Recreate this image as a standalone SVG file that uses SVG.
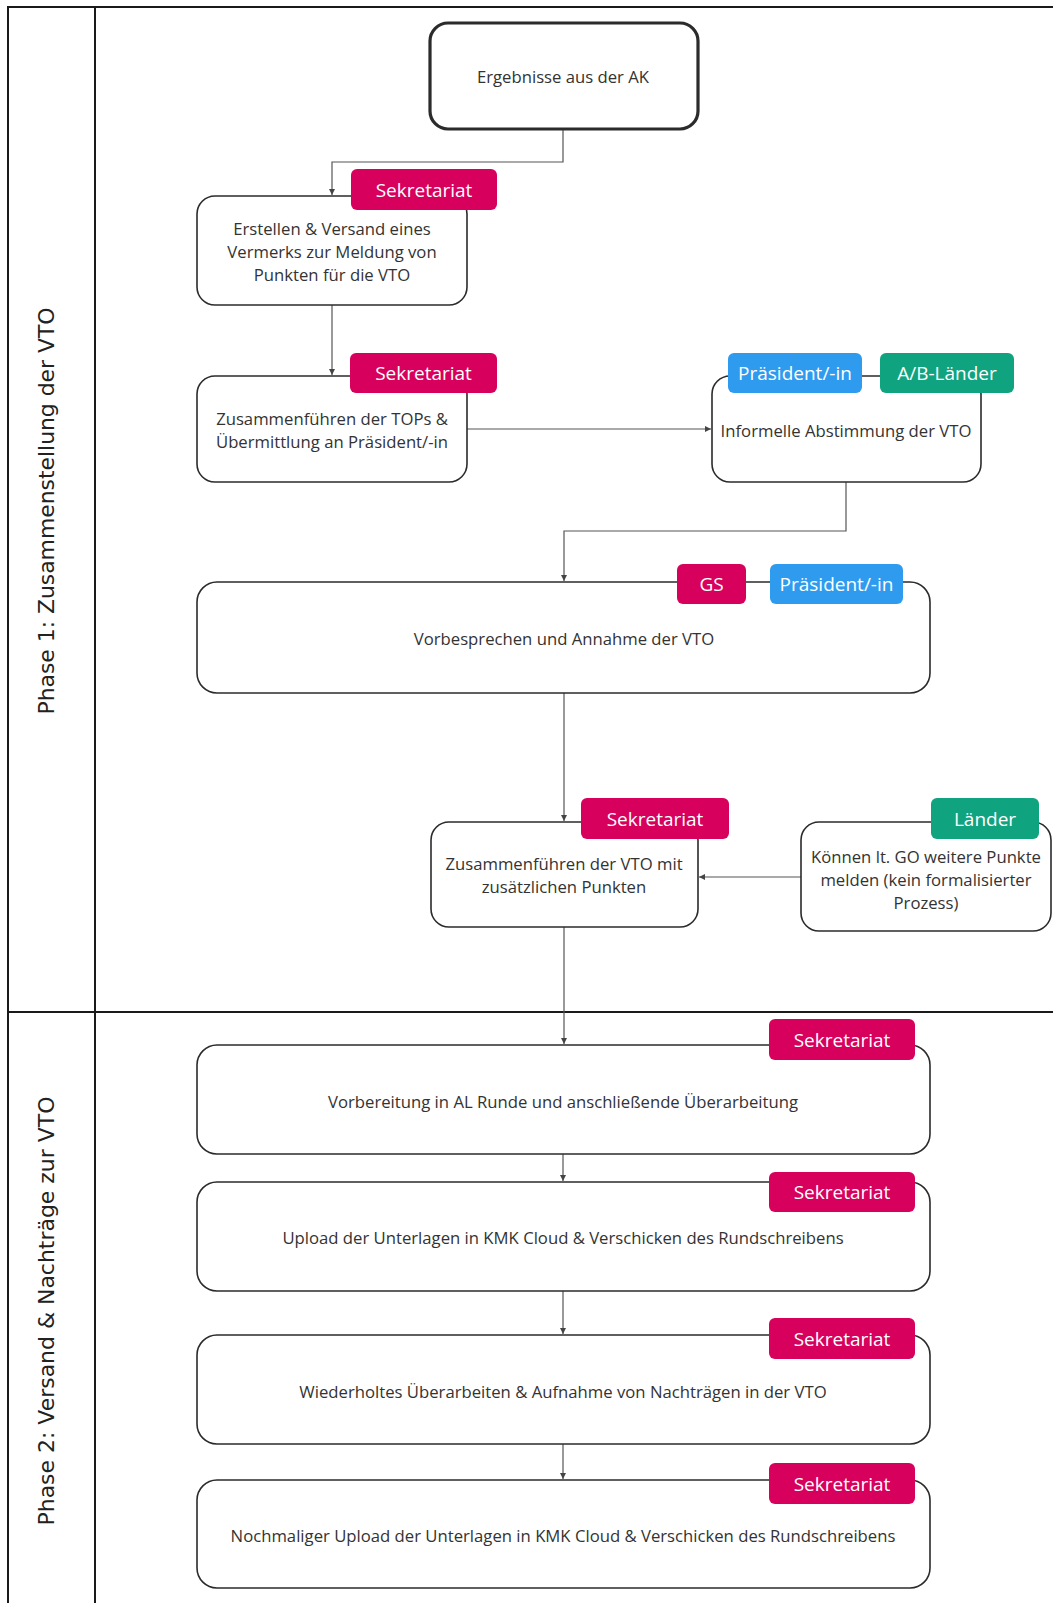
<svg xmlns="http://www.w3.org/2000/svg" width="1053" height="1603" viewBox="0 0 1053 1603">
<defs>
<style>
.node{fill:#fff;stroke:#2b2b2b;stroke-width:1.6}
.thick{stroke-width:3.2}
.t{font-family:"Open Sans","Noto Sans",sans-serif;font-size:16.7px;fill:#333;text-anchor:middle;dominant-baseline:central}
.bt{font-family:"Open Sans","Noto Sans",sans-serif;font-size:19px;fill:#fff;text-anchor:middle;dominant-baseline:central}
.mag{fill:#D8005D}
.blu{fill:#2E9BEF}
.grn{fill:#10A37F}
.lane{fill:none;stroke:#1a1a1a;stroke-width:2}
.phase{font-family:"DejaVu Sans","Liberation Sans",sans-serif;font-size:22px;fill:#222;text-anchor:middle;dominant-baseline:central}
.c{fill:none;stroke:#555;stroke-width:1.2}
</style>
<marker id="ah" viewBox="0 0 10 10" refX="10" refY="5" markerWidth="6" markerHeight="6" orient="auto" markerUnits="userSpaceOnUse">
<path d="M0,0 L10,5 L0,10 z" fill="#444"/>
</marker>
</defs>
<rect width="1053" height="1603" fill="#fff"/>
<g id="lanes">
<path class="lane" d="M8,1610 V7 H1060"/>
<path class="lane" d="M95,7 V1610"/>
<path class="lane" d="M8,1012 H1060"/>
<text class="phase" transform="translate(46,511) rotate(-90)" textLength="407" lengthAdjust="spacingAndGlyphs">Phase 1: Zusammenstellung der VTO</text>
<text class="phase" transform="translate(46,1311) rotate(-90)" textLength="429" lengthAdjust="spacingAndGlyphs">Phase 2: Versand &amp; Nachträge zur VTO</text>
</g>
<g id="connectors">
<path class="c" d="M563,130 V162 H332 V195" marker-end="url(#ah)"/>
<path class="c" d="M332,305 V375" marker-end="url(#ah)"/>
<path class="c" d="M467,429 H711" marker-end="url(#ah)"/>
<path class="c" d="M846,482 V531 H564 V581" marker-end="url(#ah)"/>
<path class="c" d="M564,693 V821" marker-end="url(#ah)"/>
<path class="c" d="M801,877 H699" marker-end="url(#ah)"/>
<path class="c" d="M564,927 V1044" marker-end="url(#ah)"/>
<path class="c" d="M563,1154 V1181" marker-end="url(#ah)"/>
<path class="c" d="M563,1291 V1334" marker-end="url(#ah)"/>
<path class="c" d="M563,1444 V1479" marker-end="url(#ah)"/>
</g>
<g id="n-ergebnisse">
<rect class="node thick" x="430" y="23" width="268" height="106" rx="18"/>
<text class="t" x="563" y="76">Ergebnisse aus der AK</text>
</g>
<g id="n-erstellen">
<rect class="node" x="197" y="196" width="270" height="109" rx="18"/>
<rect class="mag" x="351" y="169" width="146" height="41" rx="6"/>
<text class="bt" x="424" y="190">Sekretariat</text>
<text class="t" x="332" y="228">Erstellen &amp; Versand eines</text>
<text class="t" x="332" y="251">Vermerks zur Meldung von</text>
<text class="t" x="332" y="274">Punkten für die VTO</text>
</g>
<g id="n-tops">
<rect class="node" x="197" y="376" width="270" height="106" rx="18"/>
<rect class="mag" x="350" y="353" width="147" height="40" rx="6"/>
<text class="bt" x="423.5" y="373">Sekretariat</text>
<text class="t" x="332" y="418">Zusammenführen der TOPs &amp;</text>
<text class="t" x="332" y="441">Übermittlung an Präsident/-in</text>
</g>
<g id="n-informell">
<rect class="node" x="712" y="376" width="269" height="106" rx="18"/>
<rect class="blu" x="728" y="353" width="134" height="40" rx="6"/>
<text class="bt" x="795" y="373">Präsident/-in</text>
<rect class="grn" x="880" y="353" width="134" height="40" rx="6"/>
<text class="bt" x="947" y="373">A/B-Länder</text>
<text class="t" x="846" y="430">Informelle Abstimmung der VTO</text>
</g>
<g id="n-vorbesprechen">
<rect class="node" x="197" y="582" width="733" height="111" rx="20"/>
<rect class="mag" x="677" y="564" width="69" height="40" rx="6"/>
<text class="bt" x="711.5" y="584">GS</text>
<rect class="blu" x="770" y="564" width="133" height="40" rx="6"/>
<text class="bt" x="836.5" y="584">Präsident/-in</text>
<text class="t" x="564" y="638">Vorbesprechen und Annahme der VTO</text>
</g>
<g id="n-vto">
<rect class="node" x="431" y="822" width="267" height="105" rx="18"/>
<rect class="mag" x="581" y="798" width="148" height="41" rx="6"/>
<text class="bt" x="655" y="819">Sekretariat</text>
<text class="t" x="564" y="863">Zusammenführen der VTO mit</text>
<text class="t" x="564" y="886">zusätzlichen Punkten</text>
</g>
<g id="n-laender">
<rect class="node" x="801" y="822" width="250" height="109" rx="18"/>
<rect class="grn" x="931" y="798" width="108" height="41" rx="6"/>
<text class="bt" x="985" y="819">Länder</text>
<text class="t" x="926" y="856">Können lt. GO weitere Punkte</text>
<text class="t" x="926" y="879">melden (kein formalisierter</text>
<text class="t" x="926" y="902">Prozess)</text>
</g>
<g id="n-vorbereitung">
<rect class="node" x="197" y="1045" width="733" height="109" rx="20"/>
<rect class="mag" x="769" y="1019" width="146" height="41" rx="6"/>
<text class="bt" x="842" y="1040">Sekretariat</text>
<text class="t" x="563" y="1101">Vorbereitung in AL Runde und anschließende Überarbeitung</text>
</g>
<g id="n-upload">
<rect class="node" x="197" y="1182" width="733" height="109" rx="20"/>
<rect class="mag" x="769" y="1172" width="146" height="40" rx="6"/>
<text class="bt" x="842" y="1192">Sekretariat</text>
<text class="t" x="563" y="1237">Upload der Unterlagen in KMK Cloud &amp; Verschicken des Rundschreibens</text>
</g>
<g id="n-wiederholt">
<rect class="node" x="197" y="1335" width="733" height="109" rx="20"/>
<rect class="mag" x="769" y="1318" width="146" height="41" rx="6"/>
<text class="bt" x="842" y="1339">Sekretariat</text>
<text class="t" x="563" y="1391">Wiederholtes Überarbeiten &amp; Aufnahme von Nachträgen in der VTO</text>
</g>
<g id="n-nochmal">
<rect class="node" x="197" y="1480" width="733" height="108" rx="20"/>
<rect class="mag" x="769" y="1463" width="146" height="41" rx="6"/>
<text class="bt" x="842" y="1484">Sekretariat</text>
<text class="t" x="563" y="1535">Nochmaliger Upload der Unterlagen in KMK Cloud &amp; Verschicken des Rundschreibens</text>
</g>
</svg>
